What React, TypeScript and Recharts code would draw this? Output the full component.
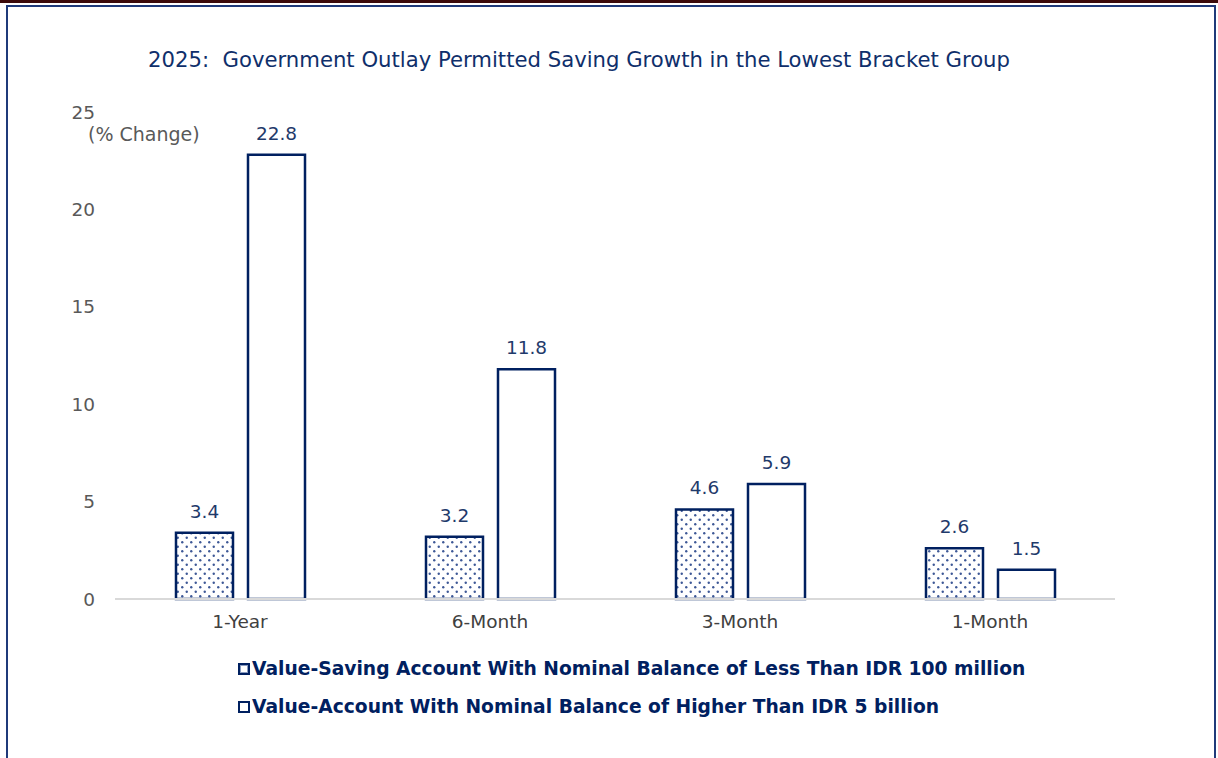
import React from "react";
import { BarChart, Bar, XAxis, YAxis, LabelList } from "recharts";

const categories = ["1-Year", "6-Month", "3-Month", "1-Month"];
const lowBalance = [3.4, 3.2, 4.6, 2.6];
const highBalance = [22.8, 11.8, 5.9, 1.5];
const yTicks = [0, 5, 10, 15, 20, 25];
const seriesNames = [
  "Value-Saving Account With Nominal Balance of Less Than IDR 100 million",
  "Value-Account With Nominal Balance of Higher Than IDR 5 billion",
];

const data = categories.map((c, i) => ({ name: c, low: lowBalance[i], high: highBalance[i] }));

const NAVY = "#002060";
const FONT = "'DejaVu Sans', Verdana, sans-serif";

export default function App() {
  return (
    <div style={{ position: "absolute", left: 0, top: 0, width: 1218, height: 758, background: "#fff", overflow: "hidden", fontFamily: FONT }}>
      <div style={{ position: "absolute", left: 0, top: 0, width: 1218, height: 3, background: "#3b0a0a" }} />
      <div style={{ position: "absolute", left: 6, top: 5, width: 1206, height: 800, border: `2px solid #1f3a7a`, borderBottom: "none" }} />
      <div style={{ position: "absolute", left: 0, top: 47, width: 1158, textAlign: "center", fontSize: 21.2, color: "#0f2f6b", whiteSpace: "pre" }}>
        {"2025:  Government Outlay Permitted Saving Growth in the Lowest Bracket Group"}
      </div>
      <div style={{ position: "absolute", left: 88, top: 123, fontSize: 19, color: "#595959" }}>(% Change)</div>
      <div style={{ position: "absolute", left: 0, top: 0 }}>
        <BarChart
          width={1218}
          height={758}
          data={data}
          margin={{ top: 112, right: 103, bottom: 129, left: 0 }}
          barGap={15}
          barCategoryGap={61}
        >
          <defs>
            <pattern id="dots" width="9" height="9" patternUnits="userSpaceOnUse">
              <rect width="9" height="9" fill="#fff" />
              <circle cx="2.25" cy="2.25" r="1.2" fill="#3d5896" />
              <circle cx="6.75" cy="6.75" r="1.2" fill="#3d5896" />
            </pattern>
          </defs>
          <YAxis
            width={115}
            domain={[0, 25]}
            ticks={yTicks}
            axisLine={false}
            tickLine={false}
            tickSize={0}
            tickMargin={20}
            tick={{ fill: "#595959", fontSize: 18.5, fontFamily: FONT }}
            interval={0}
          />
          <XAxis
            dataKey="name"
            height={30}
            axisLine={{ stroke: "#d9d9d9", strokeWidth: 2 }}
            tickLine={false}
            tickMargin={10}
            tick={{ fill: "#404040", fontSize: 18.5, fontFamily: FONT }}
            interval={0}
          />
          <Bar dataKey="low" fill="url(#dots)" stroke={NAVY} strokeWidth={2.5} isAnimationActive={false}>
            <LabelList dataKey="low" position="top" offset={15} fill="#1f3a6b" fontSize={18.5} fontFamily={FONT} />
          </Bar>
          <Bar dataKey="high" fill="#fff" stroke={NAVY} strokeWidth={2.5} isAnimationActive={false}>
            <LabelList dataKey="high" position="top" offset={15} fill="#1f3a6b" fontSize={18.5} fontFamily={FONT} />
          </Bar>
        </BarChart>
      </div>
      <div style={{ position: "absolute", left: 238, top: 650, fontSize: 18.7, fontWeight: "bold", color: NAVY, lineHeight: "38px" }}>
        {seriesNames.map((n, i) => (
          <div key={n} style={{ display: "flex", alignItems: "center" }}>
            <svg width={12} height={12} style={{ marginRight: 2 }}>
              <rect x={1} y={1} width={10} height={10} fill={i === 0 ? "#8a9cc0" : "#fff"} stroke={NAVY} strokeWidth={2} />
              {i === 0 && <rect x={3} y={3} width={6} height={6} fill="#fff" />}
            </svg>
            <span>{n}</span>
          </div>
        ))}
      </div>
    </div>
  );
}
